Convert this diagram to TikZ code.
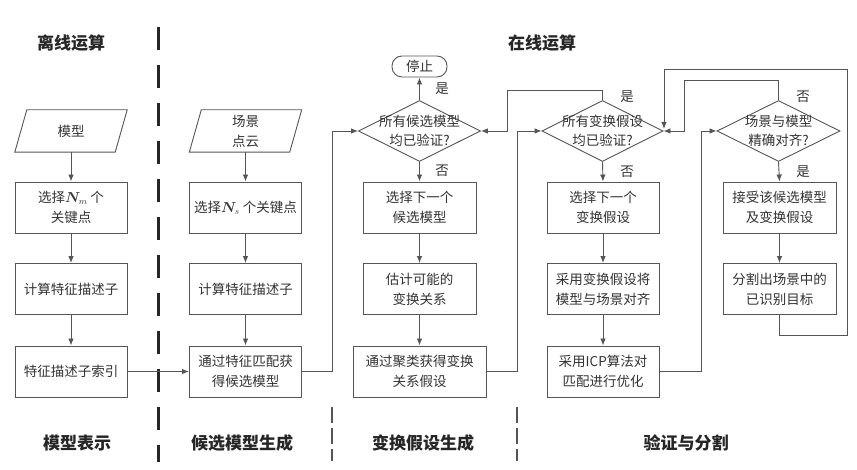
\documentclass[tikz,border=0pt]{standalone}
\usepackage{amsmath}
\usepackage{fontspec}
\setmainfont{Noto Sans CJK SC}
\usetikzlibrary{arrows.meta,shapes.geometric}
\definecolor{ln}{HTML}{555555}
\definecolor{tx}{HTML}{333333}
\tikzset{
  box/.style={draw=ln, line width=0.9pt, rectangle, minimum width=112pt, minimum height=51pt, inner sep=0pt, align=center, font=\fontsize{13.5}{20}\selectfont, text=tx},
  dia/.style={draw=ln, line width=0.9pt, diamond, minimum width=122pt, minimum height=61pt, inner sep=0pt},
  dtext/.style={align=center, font=\fontsize{13.5}{19}\selectfont, text=tx, inner sep=0pt},
  ptext/.style={align=center, font=\fontsize{13.5}{20}\selectfont, text=tx, minimum width=112pt, minimum height=42pt, inner sep=0pt},
  lab/.style={font=\fontsize{13.5}{14}\selectfont, text=tx, inner sep=0pt},
  ttl/.style={font=\fontsize{17}{19}\selectfont\bfseries, text=black!85, inner sep=0pt},
  arr/.style={draw=ln, line width=0.9pt, -{Latex[length=7pt,width=5.5pt]}},
  para/.style={draw=ln, line width=0.9pt},
}
\newcommand{\pgram}[1]{\draw[para] ([xshift=0pt]#1.south west) -- ([xshift=12pt]#1.north west) -- (#1.north east) -- ([xshift=-12pt]#1.south east) -- cycle;}
\begin{document}
\begin{tikzpicture}[x=1pt,y=-1pt]
\useasboundingbox[fill=white] (0,0) rectangle (857,470);

% titles
\node[ttl] (t1) at (71,43) {离线运算};
\node[ttl] (t2) at (542,43) {在线运算};
\node[ttl] (s1) at (77,443) {模型表示};
\node[ttl] (s2) at (242,443) {候选模型生成};
\node[ttl] (s3) at (423,443) {变换假设生成};
\node[ttl] (s4) at (686,443) {验证与分割};

% dashed separators
\coordinate (dA1) at (158,27);
\coordinate (dA2) at (158,462);
\draw[line width=3pt, black!85, dash pattern=on 23pt off 15pt] (dA1) -- (dA2);
\coordinate (dB1) at (332,407);
\coordinate (dB2) at (332,461);
\draw[line width=1.6pt, ln, dash pattern=on 16pt off 5pt] (dB1) -- (dB2);
\coordinate (dC1) at (517,407);
\coordinate (dC2) at (517,461);
\draw[line width=1.6pt, ln, dash pattern=on 16pt off 5pt] (dC1) -- (dC2);

% column 1
\node[ptext] (p1) at (71,131) {模型};
\pgram{p1}
\node[box] (a1) at (71,207.5) {选择$\boldsymbol{N}_{\!m}$ 个\\关键点};
\node[box] (a2) at (71,289) {计算特征描述子};
\node[box] (a3) at (71,371.5) {特征描述子索引};

% column 2
\node[ptext] (p2) at (245.5,131) {场景\\点云};
\pgram{p2}
\node[box] (b1) at (245.5,207.5) {选择$\boldsymbol{N}_{\!s}$ 个关键点};
\node[box] (b2) at (245.5,289) {计算特征描述子};
\node[box] (b3) at (245.5,371.5) {通过特征匹配获\\得候选模型};

% column 3
\node[draw=ln, line width=0.9pt, rounded corners=10pt, minimum width=55pt, minimum height=21pt, inner sep=0pt, font=\fontsize{13.5}{14}\selectfont, text=tx] (stop) at (419.5,66.5) {停止};
\node[dia] (d1) at (419.5,131) {};
\node[dtext] (d1t) at (419.5,131) {所有候选模型\\均已验证?};
\node[box, minimum width=113pt] (c1) at (419.5,207.5) {选择下一个\\候选模型};
\node[box, minimum width=113pt] (c2) at (419.5,289) {估计可能的\\变换关系};
\node[box, minimum width=133pt] (c3) at (419.5,371.5) {通过聚类获得变换\\关系假设};

% column 4
\node[dia, minimum width=121pt] (d2) at (602.5,131) {};
\node[dtext] (d2t) at (602.5,131) {所有变换假设\\均已验证?};
\node[box] (e1) at (603,207.5) {选择下一个\\变换假设};
\node[box] (e2) at (603,289) {采用变换假设将\\模型与场景对齐};
\node[box] (e3) at (603,371.5) {采用ICP算法对\\匹配进行优化};

% column 5
\node[dia, minimum width=123pt] (d3) at (778.5,131) {};
\node[dtext] (d3t) at (778.5,131) {场景与模型\\精确对齐?};
\node[box, minimum width=113pt] (f1) at (779.5,207.5) {接受该候选模型\\及变换假设};
\node[box, minimum width=113pt] (f2) at (779.5,289) {分割出场景中的\\已识别目标};

% yes/no labels
\node[lab] (l1) at (442,89) {是};
\node[lab] (l2) at (442,171) {否};
\node[lab] (l3) at (627,97) {是};
\node[lab] (l4) at (627,172) {否};
\node[lab] (l5) at (803,97) {否};
\node[lab] (l6) at (803,172) {是};

% vertical arrows
\draw[arr] (p1) -- (a1);
\draw[arr] (a1) -- (a2);
\draw[arr] (a2) -- (a3);
\draw[arr] (p2) -- (b1);
\draw[arr] (b1) -- (b2);
\draw[arr] (b2) -- (b3);
\draw[arr] (d1.north) -- (stop.south);
\draw[arr] (d1.south) -- (c1.north);
\draw[arr] (c1) -- (c2);
\draw[arr] (c2) -- (c3);
\draw[arr] (d2.south) -- (e1.north);
\draw[arr] (e1) -- (e2);
\draw[arr] (e2) -- (e3);
\draw[arr] (d3.south) -- (f1.north);
\draw[arr] (f1) -- (f2);

% horizontal
\draw[arr] (a3.east) -- (b3.west);

% bend coordinates
\coordinate (k1) at (332,0);
\coordinate (k2) at (517,0);
\coordinate (k3) at (701,0);
\coordinate (k4) at (507,90);
\coordinate (k5) at (684,80);
\coordinate (k6) at (847,335);
\coordinate (k7) at (664,69);

\draw[arr] (b3.east) -- (b3.east -| k1) -- (k1 |- d1.west) -- (d1.west);
\draw[arr] (c3.east) -- (c3.east -| k2) -- (k2 |- d2.west) -- (d2.west);
\draw[arr] (e3.east) -- (e3.east -| k3) -- (k3 |- d3.west) -- (d3.west);

\draw[arr] (d2.north) -- (d2.north |- k4) -- (k4) -- (k4 |- d1.east) -- (d1.east);
\draw[arr] (d3.north) -- (d3.north |- k5) -- (k5) -- (k5 |- d2.east) -- (d2.east);
\draw[arr] (f2.south) -- (f2.south |- k6) -- (k6) -- (k6 |- k7) -- (k7) -- ([yshift=2pt]k7 |- d2.east);

\end{tikzpicture}
\end{document}
